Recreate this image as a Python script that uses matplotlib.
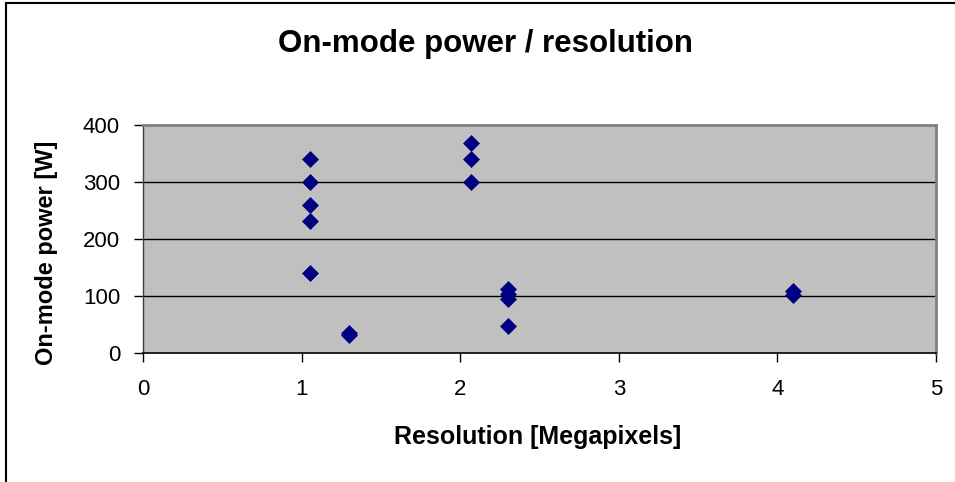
import matplotlib
matplotlib.use("Agg")
import matplotlib.pyplot as plt
from matplotlib.lines import Line2D

plt.rcParams['font.family'] = ['Liberation Sans', 'DejaVu Sans']

resolution_mp = [1.05, 1.05, 1.05, 1.05, 1.05, 1.3, 1.3, 2.07, 2.07, 2.07, 2.3, 2.3, 2.3, 2.3, 4.1, 4.1]
power_w = [340, 300, 260, 232, 140, 35, 32, 368, 340, 300, 112, 104, 94, 47, 108, 102]
x_ticks = [0, 1, 2, 3, 4, 5]
y_ticks = [0, 100, 200, 300, 400]

title = "On-mode power / resolution"
x_label = "Resolution [Megapixels]"
y_label = "On-mode power [W]"

fig = plt.figure(figsize=(9.55, 4.82), dpi=100)
fig.patch.set_facecolor('white')
ax = fig.add_axes([143/955, 1-353/482, (936-143)/955, (353-124.7)/482])
ax.set_facecolor('#C0C0C0')

ax.scatter(resolution_mp, power_w, marker='D', s=75, color='#000080', zorder=3, linewidths=0)

ax.set_xlim(0, 5)
ax.set_ylim(0, 400)
ax.set_xticks(x_ticks)
ax.set_yticks(y_ticks)
ax.set_xticklabels([str(t) for t in x_ticks])
ax.set_yticklabels([str(t) for t in y_ticks])
ax.tick_params(axis='both', direction='out', length=6.5, width=1, color='black', labelsize=16)
ax.tick_params(axis='y', pad=10)
ax.tick_params(axis='x', pad=12)

for yv in y_ticks[1:-1]:
    ax.axhline(yv, color='black', linewidth=1, zorder=1)

for s in ['top', 'right']:
    ax.spines[s].set_color('#808080')
    ax.spines[s].set_linewidth(2)
ax.spines['left'].set_color('#404040')
ax.spines['left'].set_linewidth(1)
ax.spines['bottom'].set_color('black')
ax.spines['bottom'].set_linewidth(1.2)

fig.text(485/955, 1-44/482, title, ha='center', va='center', fontsize=22.5, fontweight='bold')
fig.text(538/955, 1-437/482, x_label, ha='center', va='center', fontsize=18, fontweight='bold')
fig.text(47/955, 1-253/482, y_label, ha='center', va='center', fontsize=17, fontweight='bold', rotation=90)

# outer chart frame (left and top edges visible)
fig.add_artist(Line2D([6/955, 6/955], [0, 1-3/482], transform=fig.transFigure, color='black', linewidth=1.5))
fig.add_artist(Line2D([6/955, 1], [1-3/482, 1-3/482], transform=fig.transFigure, color='black', linewidth=1.5))

fig.savefig("out.png", dpi=100)
